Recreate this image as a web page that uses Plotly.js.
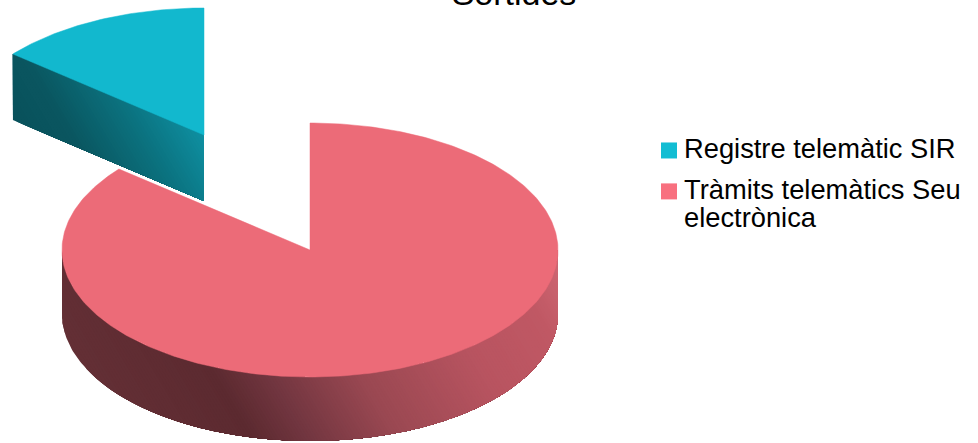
<!DOCTYPE html>
<html>
<head>
<meta charset="utf-8">
<script src="https://cdn.plot.ly/plotly-3.0.0.min.js"></script>
<style>html,body{margin:0;padding:0;background:#fff;overflow:hidden}#chart{width:978px;height:443px}</style>
</head>
<body>
<div id="chart"></div>
<script>
// Share of outgoing records per channel
const categories = ['Registre telemàtic SIR', 'Tràmits telemàtics Seu<br>electrònica'];
const values = [14, 86];
const chartTitle = 'Sortides';

const topColors = ['#12b8ce', '#ec6b78'];
const swatchColors = ['#12bdd3', '#f8707f'];

// Wall shading stops, keyed on the diagonal coordinate x - 0.6*y
const wallStops = [
  [[-70, '#08505a'], [-10, '#0a5660'], [60, '#0b727f'], [84, '#0c7d8c'], [130, '#0f93a5']],
  [[-130, '#632f35'], [-10, '#5c2a30'], [45, '#723640'], [136, '#9a4852'], [260, '#b85460'], [350, '#c05864'], [395, '#cc6571']]
];

// Pie projection in plot units
const CX = 310, CY = 250, RX = 248, RY = 127;
const EXPLODE = [[-106, -115], [0, 0]];
const WALL_DEPTH = [66, 64];

const total = values.reduce((a, b) => a + b, 0);
const shareToAngle = s => s / total * 2 * Math.PI;

// Point on the top rim; the angle runs clockwise from twelve o'clock
function rim(angle, ox, oy) {
  return [CX + ox + RX * Math.sin(angle), CY + oy - RY * Math.cos(angle)];
}

function hexToRgb(h) {
  return [1, 3, 5].map(i => parseInt(h.substr(i, 2), 16));
}

function shade(stops, t) {
  if (t <= stops[0][0]) return stops[0][1];
  for (let i = 1; i < stops.length; i++) {
    if (t <= stops[i][0]) {
      const f = (t - stops[i - 1][0]) / (stops[i][0] - stops[i - 1][0]);
      const a = hexToRgb(stops[i - 1][1]), b = hexToRgb(stops[i][1]);
      return 'rgb(' + a.map((c, k) => Math.round(c + (b[k] - c) * f)).join(',') + ')';
    }
  }
  return stops[stops.length - 1][1];
}

// Keep the part of a polygon above a limit of the diagonal coordinate
function clipPoly(poly, limit) {
  const out = [];
  const coord = p => p[0] - 0.6 * p[1];
  for (let i = 0; i < poly.length; i++) {
    const a = poly[i], b = poly[(i + 1) % poly.length];
    const ia = coord(a) >= limit, ib = coord(b) >= limit;
    if (ia) out.push(a);
    if (ia !== ib) {
      const f = (limit - coord(a)) / (coord(b) - coord(a));
      out.push([a[0] + (b[0] - a[0]) * f, a[1] + (b[1] - a[1]) * f]);
    }
  }
  return out;
}

function polyTrace(poly, color, width) {
  return {
    x: poly.map(p => p[0]), y: poly.map(p => p[1]),
    type: 'scatter', mode: 'lines', fill: 'toself', fillcolor: color,
    line: { color: color, width: width }, hoverinfo: 'skip', showlegend: false
  };
}

// Paint a wall as overlapping layers, each covering the rest of the wall
// from its own diagonal position onward, so no seams show between colours
function wallBands(poly, stops, step) {
  const ts = poly.map(p => p[0] - 0.6 * p[1]);
  const tMin = Math.min(...ts), tMax = Math.max(...ts);
  const bands = [];
  for (let t = tMin; t < tMax; t += step) {
    const part = clipPoly(poly, t);
    if (part.length > 2) {
      part.push(part[0]);
      bands.push(polyTrace(part, shade(stops, t + step / 2), 0));
    }
  }
  return bands;
}

const traces = [];
const blueEnd = 2 * Math.PI;
const blueStart = blueEnd - shareToAngle(values[0]);
const N = 180;

// Detached slice: its cut face is the only visible wall
{
  const [ox, oy] = EXPLODE[0];
  const d = WALL_DEPTH[0];
  const apex = [CX + ox, CY + oy];
  const edge = rim(blueStart, ox, oy);
  traces.push(...wallBands([edge, apex, [apex[0], apex[1] + d], [edge[0], edge[1] + d]], wallStops[0], 3));
  const top = [apex];
  for (let i = 0; i <= N / 3; i++) top.push(rim(blueStart + (blueEnd - blueStart) * i / (N / 3), ox, oy));
  top.push(apex);
  traces.push(polyTrace(top, topColors[0], 0.5));
}

// Main slice: front half wall, then the top face with its notch
{
  const wall = [];
  for (let i = 0; i <= N; i++) wall.push(rim(Math.PI / 2 + Math.PI * i / N, 0, 0));
  for (let i = N; i >= 0; i--) {
    const p = rim(Math.PI / 2 + Math.PI * i / N, 0, 0);
    wall.push([p[0], p[1] + WALL_DEPTH[1]]);
  }
  traces.push(...wallBands(wall, wallStops[1], 3));
  const apex = [CX, CY];
  const top = [apex];
  for (let i = 0; i <= 2 * N; i++) top.push(rim(blueStart * i / (2 * N), 0, 0));
  top.push(apex);
  traces.push(polyTrace(top, topColors[1], 0.5));
}

// Legend entries
categories.forEach((name, i) => {
  traces.push({
    x: [null], y: [null], type: 'scatter', mode: 'markers',
    name: name.split('<br>').map(s => '<span style="font-size:27.3px">' + s + '</span>').join('<br>'),
    legendgroup: 'g' + i,
    marker: { symbol: 'square', size: 16, color: swatchColors[i] },
    showlegend: true, hoverinfo: 'skip'
  });
});

const layout = {
  width: 978, height: 443,
  margin: { l: 0, r: 0, t: 0, b: 0, autoexpand: false },
  paper_bgcolor: '#fff', plot_bgcolor: '#fff',
  font: { family: '"Liberation Sans", Arial, sans-serif', color: '#000' },
  title: {
    text: chartTitle, font: { size: 34, color: '#000' },
    x: 514 / 978, xanchor: 'center', xref: 'container',
    y: 0.988, yanchor: 'bottom', yref: 'container'
  },
  xaxis: { range: [0, 978], visible: false, fixedrange: true },
  yaxis: { range: [443, 0], visible: false, fixedrange: true },
  showlegend: true,
  legend: {
    x: 644 / 978, y: 1 - 129 / 443, xanchor: 'left', yanchor: 'top',
    xref: 'container', yref: 'container',
    font: { size: 21.5, color: '#000' }, tracegroupgap: 10,
    bgcolor: 'rgba(0,0,0,0)', itemsizing: 'trace'
  }
};

// Seat each swatch just left of the first line of its label
const swatchNudge = [[5, 1], [5, -13]];

Plotly.newPlot('chart', traces, layout, { displayModeBar: false, staticPlot: true }).then(() => {
  document.querySelectorAll('#chart .legend .legendpoints').forEach((el, i) => {
    const [dx, dy] = swatchNudge[i];
    const old = el.getAttribute('transform') || '';
    el.setAttribute('transform', old + ' translate(' + dx + ',' + dy + ')');
  });
});
</script>
</body>
</html>
